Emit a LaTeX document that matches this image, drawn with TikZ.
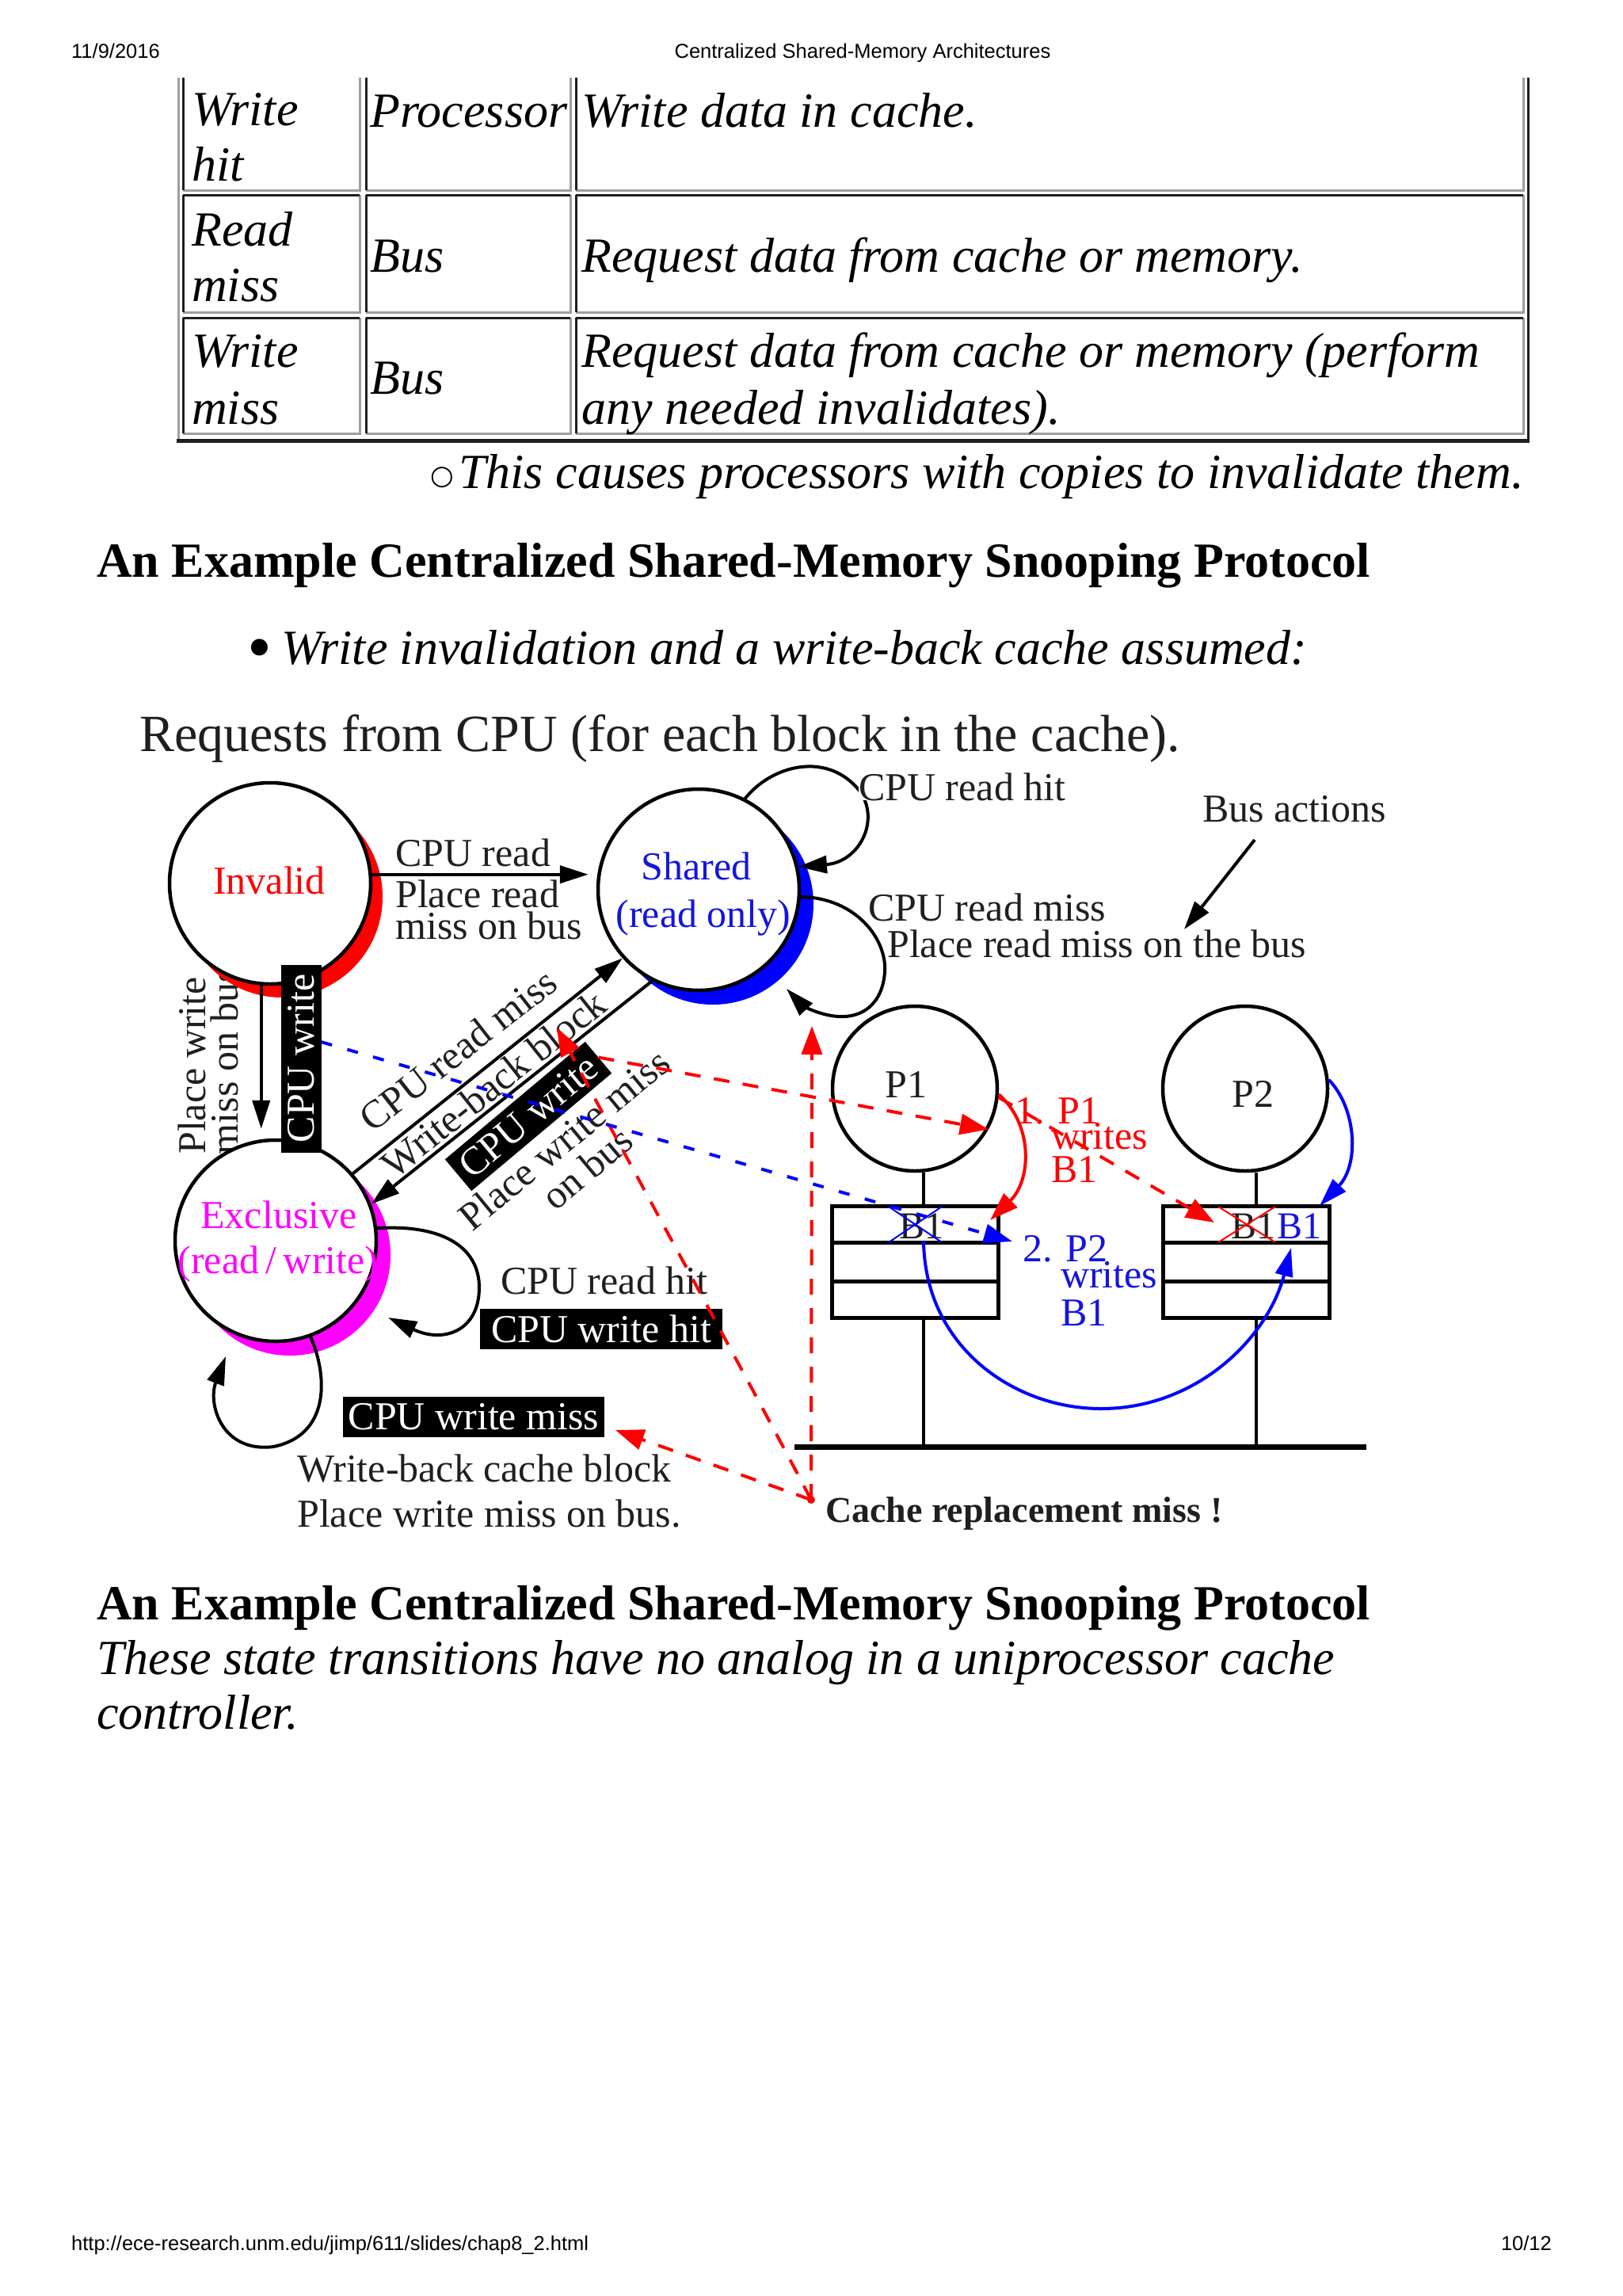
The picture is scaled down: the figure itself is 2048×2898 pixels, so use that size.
\documentclass[tikz,border=0pt]{standalone}
\usepackage{fontspec}
\setmainfont{Liberation Serif}
\newfontfamily\arialf{Liberation Sans}
\newfontfamily\symf{DejaVu Sans}
\usetikzlibrary{arrows.meta}
\newcommand{\fsz}[1]{\fontsize{#1}{#1}\selectfont}
\definecolor{cellhi}{gray}{0.62}
\definecolor{celllo}{gray}{0.12}
\definecolor{txt}{gray}{0.12}
\definecolor{mag}{RGB}{255,0,255}
\definecolor{pred}{RGB}{255,0,0}
\definecolor{pblue}{RGB}{0,0,255}
\definecolor{tblue}{RGB}{20,20,225}
\begin{document}
\begin{tikzpicture}[x=1pt,y=-1pt,
  hdr/.style={font=\arialf\fsz{25.5}, inner sep=0pt, anchor=base west},
  tb/.style={font=\itshape\fsz{62}, inner sep=0pt, anchor=base west},
  hd/.style={font=\bfseries\fsz{62}, inner sep=0pt, anchor=base west},
  dl/.style={font=\fsz{50}, inner sep=0pt, anchor=base west, text=txt},
  rl/.style={font=\fsz{50}, inner sep=0pt, anchor=center, text=txt},
  statec/.style={circle, draw, line width=4.5pt, fill=white, minimum size=254pt, inner sep=0pt},
  procc/.style={circle, draw, line width=4.5pt, fill=white, minimum size=208pt, inner sep=0pt},
  cachebox/.style={rectangle, draw, line width=5pt, minimum width=210pt, minimum height=141pt, inner sep=0pt},
  blk/.style={fill=black, text=white, font=\fsz{50}, inner sep=0pt, minimum height=51pt},
  arr/.style={line width=4pt, -{Triangle[length=36pt,width=22pt]}},
  rdash/.style={pred, line width=4pt, dash pattern=on 20pt off 17pt, -{Triangle[length=36pt,width=26pt]}},
  rsolid/.style={pred, line width=4pt, -{Triangle[length=36pt,width=24pt]}},
  bdash/.style={pblue, line width=4pt, dash pattern=on 14pt off 20pt, -{Triangle[length=36pt,width=24pt]}},
  bsolid/.style={pblue, line width=4pt, -{Triangle[length=36pt,width=22pt]}},
  cellL/.style={celllo, line width=3pt},
  cellH/.style={cellhi, line width=3pt}
]
\useasboundingbox (0,0) rectangle (2048,2898);
\fill[white] (0,0) rectangle (2048,2898);

% ---------------- page header / footer
\node[hdr] (date) at (90,74) {11/9/2016};
\node[hdr,anchor=base] (ttl) at (1089,74) {Centralized Shared-Memory Architectures};
\node[hdr] (url) at (90,2840) {http://ece-research.unm.edu/jimp/611/slides/chap8\_2.html};
\node[hdr,anchor=base east] (pg) at (1959,2840) {10/12};

% ---------------- table
\draw[cellhi, line width=3pt] (225,98) -- (225,556);
\draw[celllo, line width=3pt] (1929,98) -- (1929,556);
\draw[celllo, line width=5pt] (223,556) -- (1931,556);
\foreach \ya/\yb in {98/240,246/394,401/547} {
  \foreach \xa/\xb in {231/454,462/720,727/1923} {
    \draw[cellH] (\xa,\yb) -- (\xb,\yb) -- (\xb,\ya);
    \draw[cellL] (\xa,\yb) -- (\xa,\ya);
  }
}
\foreach \ya in {246,401} {
  \foreach \xa/\xb in {231/454,462/720,727/1923} {
    \draw[cellL] (\xa,\ya) -- (\xb,\ya);
  }
}
\node[tb] (t11a) at (242,159) {Write};
\node[tb] (t11b) at (242,228) {hit};
\node[tb] (t12) at (467,161) {Processor};
\node[tb] (t13) at (734,161) {Write data in cache.};
\node[tb] (t21a) at (242,310) {Read};
\node[tb] (t21b) at (242,380) {miss};
\node[tb] (t22) at (467,343) {Bus};
\node[tb] (t23) at (734,343) {Request data from cache or memory.};
\node[tb] (t31a) at (242,463) {Write};
\node[tb] (t31b) at (242,535) {miss};
\node[tb] (t32) at (467,497) {Bus};
\node[tb] (t33a) at (734,463) {Request data from cache or memory (perform};
\node[tb] (t33b) at (734,535) {any needed invalidates).};

\node[font=\symf\fsz{34}, inner sep=0pt, anchor=base west] (circb) at (543,611) {○};
\node[tb] (causes) at (579,616) {This causes processors with copies to invalidate them.};

% ---------------- headings
\node[hd] (h1) at (122,728) {An Example Centralized Shared-Memory Snooping Protocol};
\node[font=\fsz{88}, inner sep=0pt, anchor=base west] (bul) at (312,846) {•};
\node[tb] (wi) at (355,838) {Write invalidation and a write-back cache assumed:};

\node[hd] (h2) at (122,2044) {An Example Centralized Shared-Memory Snooping Protocol};
\node[tb] (these) at (122,2113) {These state transitions have no analog in a uniprocessor cache};
\node[tb] (ctrl) at (122,2182) {controller.};

% ---------------- diagram
\node[font=\fsz{66}, inner sep=0pt, anchor=base west, text=txt] (req) at (176,948) {Requests from CPU (for each block in the cache).};

% rotated labels beside Invalid->Exclusive
\node[rl, rotate=90] (pw1) at (242,1345) {Place write};
\node[rl, rotate=90] (pw2) at (283,1339) {miss on bus};

% crescents and state circles
\fill[pred] (356,1132) circle (127pt);
\node[statec] (inv) at (341,1115) {};
\fill[pblue] (900,1141) circle (127pt);
\node[statec] (sh) at (882,1123) {};
\fill[mag] (366,1584) circle (127pt);
\node[statec] (ex) at (348,1566) {};

\node[font=\fsz{50}, inner sep=0pt, anchor=base, text=pred] (invt) at (340,1128) {Invalid};
\node[font=\fsz{50}, inner sep=0pt, anchor=base, text=tblue] (sht1) at (879,1110) {Shared};
\node[font=\fsz{50}, inner sep=0pt, anchor=base, text=tblue] (sht2) at (888,1170) {(read only)};
\node[font=\fsz{50}, inner sep=0pt, anchor=base, text=mag] (ext1) at (352,1550) {Exclusive};
\node[font=\fsz{50}, inner sep=0pt, anchor=base, text=mag] (ext2) at (351,1607) {(read\,/\,write)};

% Invalid -> Shared
\draw[arr, shorten >=10pt] (inv.5) -- (inv.5 -| sh.west);
\node[dl] (l1a) at (499,1093) {CPU read};
\node[dl] (l1b) at (499,1145) {Place read};
\node[dl] (l1c) at (499,1185) {miss on bus};

% Invalid -> Exclusive
\draw[arr, shorten >=12pt] (inv.265) -- (inv.265 |- ex.north);
\node[blk, rotate=90, minimum width=237pt] (cwv) at (380,1336) {CPU write};

% Exclusive <-> Shared
\draw[arr] (ex.41) -- (sh.222);
\draw[arr] (sh.243) -- (ex.21);
\node[rl, rotate=38] (d1) at (578,1325) {CPU read miss};
\node[rl, rotate=38.5] (d2) at (623,1368) {Write-back block};
\node[blk, rotate=40, minimum width=231pt, minimum height=52pt] (cwd) at (667,1409) {CPU write};
\node[rl, rotate=39.5] (d3) at (712,1438) {Place write miss};
\node[rl, rotate=40] (d4) at (741,1474) {on bus};

% Shared self loops
\draw[arr] (sh.63) .. controls (975,965) and (1045,948) .. (1085,998) .. controls (1112,1035) and (1085,1088) .. (sh.13);
\node[dl, fill=white] (shl1) at (1084,1010) {CPU read hit};
\coordinate (shr) at (993,1248);
\draw[arr] (sh.-4) .. controls (1080,1133) and (1120,1185) .. (1117,1227) .. controls (1114,1268) and (1088,1285) .. (1058,1283) .. controls (1030,1281) and (1010,1266) .. (shr);
\node[dl] (shl2) at (1096,1162) {CPU read miss};
\node[dl] (shl3) at (1120,1208) {Place read miss on the bus};

% bus actions
\node[dl] (busact) at (1518,1037) {Bus actions};
\coordinate (ba1) at (1584,1060);
\coordinate (ba2) at (1495,1173);
\draw[arr] (ba1) -- (ba2);

% Exclusive self loops
\coordinate (exr) at (490,1663);
\draw[arr] (ex.7) .. controls (560,1545) and (605,1575) .. (605,1625) .. controls (605,1680) and (560,1696) .. (exr);
\node[dl] (exl1) at (632,1633) {CPU read hit};
\node[blk, minimum width=306pt] (cwh) at (759,1677) {CPU write hit};
\coordinate (exb) at (285,1712);
\draw[arr] (ex.-70) .. controls (415,1740) and (415,1812) .. (345,1826) .. controls (280,1834) and (262,1772) .. (exb);
\node[blk, minimum width=330pt] (cwm) at (598,1788) {CPU write miss};
\node[dl] (wbc) at (375,1870) {Write-back cache block};
\node[dl] (pwm) at (375,1927) {Place write miss on bus.};

% ---------------- processors, caches, bus
\node[procc] (p1) at (1155,1374) {};
\node[procc] (p2) at (1572,1374) {};
\node[font=\fsz{50}, inner sep=0pt, anchor=base, text=txt] (p1t) at (1144,1385) {P1};
\node[font=\fsz{50}, inner sep=0pt, anchor=base, text=txt] (p2t) at (1582,1397) {P2};
\node[cachebox] (c1) at (1155,1592.5) {};
\node[cachebox] (c2) at (1573.5,1592.5) {};
\draw[line width=5pt] (1050,1568) -- (1260,1568);
\draw[line width=5pt] (1050,1617) -- (1260,1617);
\draw[line width=5pt] (1468,1568) -- (1679,1568);
\draw[line width=5pt] (1468,1617) -- (1679,1617);
\coordinate (s1) at (1166,1826);
\coordinate (s2) at (1586,1826);
\draw[line width=4.5pt] (p1.south -| s1) -- (c1.north -| s1);
\draw[line width=4.5pt] (p2.south -| s2) -- (c2.north -| s2);
\draw[line width=4.5pt] (c1.south -| s1) -- (s1);
\draw[line width=4.5pt] (c2.south -| s2) -- (s2);
\coordinate (busl) at (1003,1826);
\coordinate (busr) at (1725,1826);
\draw[line width=7pt] (busl) -- (busr);

\node[font=\fsz{48}, inner sep=0pt, anchor=base west, text=txt] (b1a) at (1135,1563) {B1};
\node[font=\fsz{48}, inner sep=0pt, anchor=base west, text=txt] (b1b) at (1554,1563) {B1};
\node[font=\fsz{48}, inner sep=0pt, anchor=base west, text=tblue] (b1c) at (1612,1563) {B1};
\draw[pblue, line width=2pt] (1122,1523) -- (1189,1568) (1122,1568) -- (1189,1523);
\draw[pred, line width=2pt] (1538,1523) -- (1610,1568) (1538,1568) -- (1610,1523);

\node[dl, text=pred] (n1a) at (1281,1418) {1. P1};
\node[dl, text=pred] (n1b) at (1327,1450) {writes};
\node[dl, text=pred] (n1c) at (1327,1492) {B1};
\node[dl, text=tblue] (n2a) at (1291,1592) {2. P2};
\node[dl, text=tblue] (n2b) at (1339,1625) {writes};
\node[dl, text=tblue] (n2c) at (1339,1673) {B1};

\node[font=\bfseries\fsz{46}, inner sep=0pt, anchor=base west, text=txt] (crm) at (1042,1921) {Cache replacement miss !};

% ---------------- red and blue actions
\coordinate (orig) at (1024,1893);
\coordinate (rtop) at (1025,1295);
\coordinate (r2tip) at (703,1297);
\coordinate (r3tip) at (777,1805);
\coordinate (r5tip) at (1533,1543);
\coordinate (r6tip) at (1250,1540);
\coordinate (b1tip) at (1278,1567);
\coordinate (b2tip) at (1666,1522);
\coordinate (b3s) at (1166,1567);
\coordinate (b3tip) at (1630,1575);

\draw[rdash] (orig) -- (rtop);
\draw[rdash] (orig) .. controls (960,1770) and (790,1460) .. (r2tip);
\draw[rdash] (orig) -- (r3tip);
\fill[pred] (orig) circle (5pt);
\draw[rdash] (cwd.east) -- (p1.-29);
\draw[rdash] (p1.-6) -- (r5tip);
\draw[rsolid] (p1.-4) .. controls (1305,1420) and (1302,1490) .. (r6tip);

\draw[bdash] (cwv.-51) -- (b1tip);
\draw[bsolid] (p2.6) .. controls (1713,1400) and (1716,1470) .. (b2tip);
\draw[bsolid] (b3s) .. controls (1168,1700) and (1280,1778) .. (1390,1778) .. controls (1510,1778) and (1600,1690) .. (b3tip);
\end{tikzpicture}
\end{document}
